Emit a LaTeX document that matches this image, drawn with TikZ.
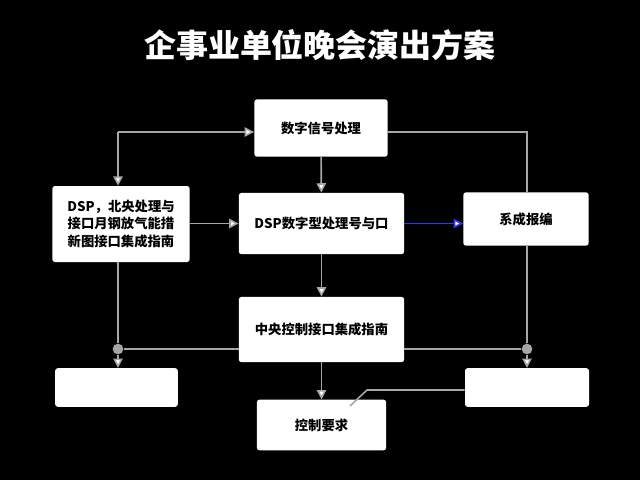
\documentclass[tikz,border=0pt]{standalone}
\usepackage{fontspec}
\setmainfont{Noto Sans CJK SC}
\usetikzlibrary{arrows.meta}
\begin{document}
\begin{tikzpicture}[x=0.75pt,y=-0.75pt,
 box/.style={draw=none,fill=white,rounded corners=2pt,align=center,font=\bfseries\fontsize{10}{13}\selectfont,text=black},
 ln/.style={draw=gray!70,line width=1.2pt},
 ar/.style={ln,-{Triangle[width=7pt,length=7pt,fill=white]}},
 dot/.style={circle,fill=gray!70,inner sep=0pt,minimum size=8pt}]
\fill[black] (0,0) rectangle (640,480);
\useasboundingbox (0,0) rectangle (640,480);
\node[text=white,font=\bfseries\fontsize{24}{28}\selectfont] (title) at (320,45) {企事业单位晚会演出方案};
\node[box,minimum width=100pt,minimum height=43pt] (top) at (321,128) {数字信号处理};
\node[box,minimum width=103pt,minimum height=57pt] (left) at (121,224) {DSP，北央处理与\\接口月钢放气能措\\新图接口集成指南};
\node[box,minimum width=124pt,minimum height=46pt] (center) at (321.5,223.5) {DSP数字型处理号与口};
\node[box,minimum width=94pt,minimum height=40pt] (right) at (526,219) {系成报编};
\node[box,minimum width=124pt,minimum height=49pt] (mid) at (321.5,329.5) {中央控制接口集成指南};
\node[box,minimum width=92pt,minimum height=29pt] (bl) at (116.5,387.5) {};
\node[box,minimum width=93pt,minimum height=29pt] (br) at (527,387.5) {};
\node[box,minimum width=97pt,minimum height=38pt] (bot) at (321.5,425) {控制要求};
\coordinate (tl) at (118,132);
\coordinate (tr) at (527,132);
\node[dot] (dl) at (118,349) {};
\node[dot] (dr) at (527,349) {};
\coordinate (k) at (367,390);
\draw[ar] (tl) -- (top.west |- tl);
\draw[ar] (tl) -- (left.north -| tl);
\draw[ln] (top.east |- tr) -- (tr) -- (right.north -| tr);
\draw[ar] (top) -- (center);
\draw[ar] (left.east |- center) -- (center.west);
\draw[ln,draw=blue!80!white,-{Triangle[width=7pt,length=7pt,fill=white]}] (center.east) -- (right.west |- center);
\draw[ar] (center) -- (mid);
\draw[ar] (mid) -- (bot);
\draw[ln] (left.south -| dl) -- (dl) -- (mid.west |- dl);
\draw[ln] (right.south -| dr) -- (dr) -- (mid.east |- dr);
\draw[ar] (dl) -- (bl.north -| dl);
\draw[ar] (dr) -- (br.north -| dr);
\draw[ln] (br.west |- k) -- (k) -- (350,406);
\end{tikzpicture}
\end{document}
